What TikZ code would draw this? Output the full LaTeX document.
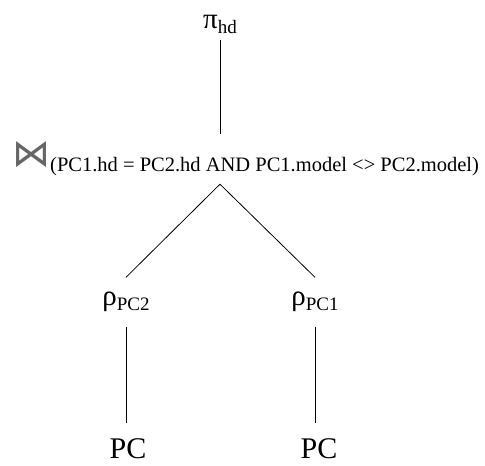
\documentclass[tikz,border=0pt]{standalone}
\usepackage{fontspec}
\setmainfont{Liberation Serif}
\newfontfamily\joinFont{DejaVu Sans}
\usetikzlibrary{positioning}
\tikzstyle{relTree} = [x = 1pt, y = -1pt]
\tikzstyle{treeEdge} = [color=black, line width=0.8pt]
\tikzstyle{opNode} = [inner sep=0pt, font=\fontsize{29}{30}\selectfont]
\tikzstyle{relNode} = [inner sep=0pt, font=\fontsize{30}{32}\selectfont]
\newcommand{\opSub}[1]{\raisebox{-5pt}{\fontsize{19}{20}\selectfont #1}}
\newcommand{\joinSymbol}{{\joinFont\fontsize{38}{40}\selectfont\color{black!60}⋈}}
\newcommand{\joinCond}[1]{\raisebox{-5pt}{\fontsize{20.5}{22}\selectfont #1}}
\begin{document}
\begin{tikzpicture}[relTree]
\useasboundingbox (0,0) rectangle (485,466);
\node [opNode, minimum height=32] (pi) at (220,24) {π\opSub{hd}};
\node [opNode, minimum height=50, anchor=west] (join) at (12,159) {\joinSymbol\joinCond{(PC1.hd = PC2.hd AND PC1.model <> PC2.model)}};
\node [opNode, minimum height=49] (rhoTwo) at (126,302) {ρ\opSub{PC2}};
\node [opNode, minimum height=49] (rhoOne) at (315,302) {ρ\opSub{PC1}};
\node [relNode, minimum height=52] (pcLeft) at (128,449) {PC};
\node [relNode, minimum height=52] (pcRight) at (319,449) {PC};
\draw [treeEdge] (pi.south) -- (pi.south |- join.north);
\draw [treeEdge] (join.south -| pi.south) -- (rhoTwo.north);
\draw [treeEdge] (join.south -| pi.south) -- (rhoOne.north);
\draw [treeEdge] (rhoTwo.south) -- (rhoTwo.south |- pcLeft.north);
\draw [treeEdge] (rhoOne.south) -- (rhoOne.south |- pcRight.north);
\end{tikzpicture}
\end{document}
